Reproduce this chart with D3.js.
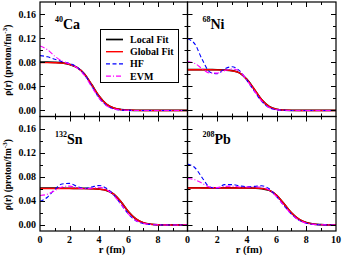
<!DOCTYPE html>
<html>
<title>densities</title>
<meta charset="UTF-8">
<script type="text/javascript" src="https://d3js.org/d3.v7.min.js"></script>
<style type="text/css">
	body { margin:0; background:white; }
	text { font-family: "Liberation Serif", "DejaVu Serif", serif; font-weight: bold; fill: black; }
</style>
<body>
<svg id="viz" width="343" height="255"></svg>
</body>
<script type="text/javascript">

// radius grid (fm)
var rGrid = [0,0.5,1,1.5,2,2.5,3,3.5,4,4.5,5,5.5,6,6.5,7,7.5,8,8.5,9,9.5,10];

var seriesNames = ["Local Fit", "Global Fit", "HF", "EVM"];
var yTicks = [0, 0.04, 0.08, 0.12, 0.16];
var xTicks = [0, 2, 4, 6, 8, 10];

// 40Ca
var localCa  = [0.0801,0.0801,0.0798,0.0789,0.0766,0.0715,0.0610,0.0430,0.0240,0.0105,0.0040,0.0015,0.0005,0.0002,0,0,0,0,0,0,0];
var globalCa = [0.0794,0.0794,0.0792,0.0786,0.0765,0.0716,0.0612,0.0432,0.0241,0.0106,0.0041,0.0015,0.0005,0.0002,0,0,0,0,0,0,0];
var hfCa     = [0.0910,0.0890,0.0850,0.0810,0.0780,0.0722,0.0602,0.0408,0.0213,0.0085,0.0025,0.0007,0.0002,0,0,0,0,0,0,0,0];
var evmCa    = [0.1070,0.1010,0.0900,0.0820,0.0770,0.0708,0.0585,0.0395,0.0205,0.0080,0.0025,0.0007,0.0002,0,0,0,0,0,0,0,0];

// 68Ni
var localNi  = [0.0678,0.0678,0.0678,0.0677,0.0676,0.0672,0.0660,0.0624,0.0515,0.0350,0.0175,0.0065,0.0020,0.0006,0.0002,0,0,0,0,0,0];
var globalNi = [0.0675,0.0675,0.0675,0.0675,0.0674,0.0670,0.0658,0.0622,0.0515,0.0352,0.0177,0.0066,0.0021,0.0006,0.0002,0,0,0,0,0,0];
var hfNi     = [0.1190,0.1100,0.0840,0.0640,0.0610,0.0690,0.0725,0.0660,0.0500,0.0320,0.0150,0.0045,0.0012,0.0003,0,0,0,0,0,0,0];
var evmNi    = [0.0810,0.0780,0.0690,0.0620,0.0620,0.0660,0.0690,0.0650,0.0500,0.0325,0.0155,0.0050,0.0013,0.0003,0,0,0,0,0,0,0];

// 132Sn
var localSn  = [0.0612,0.0612,0.0611,0.0610,0.0609,0.0608,0.0606,0.0602,0.0595,0.0575,0.0510,0.0380,0.0220,0.0100,0.0037,0.0012,0.0003,0.0001,0,0,0];
var globalSn = [0.0606,0.0606,0.0606,0.0606,0.0606,0.0605,0.0604,0.0601,0.0595,0.0576,0.0512,0.0383,0.0222,0.0101,0.0038,0.0012,0.0003,0.0001,0,0,0];
var hfSn     = [0.0390,0.0460,0.0590,0.0680,0.0690,0.0640,0.0605,0.0630,0.0655,0.0610,0.0500,0.0340,0.0180,0.0070,0.0025,0.0008,0.0002,0,0,0,0];
var evmSn    = [0.0490,0.0510,0.0570,0.0630,0.0645,0.0620,0.0600,0.0610,0.0625,0.0590,0.0490,0.0340,0.0180,0.0075,0.0027,0.0008,0.0002,0,0,0,0];

// 208Pb
var localPb  = [0.0618,0.0618,0.0617,0.0617,0.0616,0.0616,0.0615,0.0615,0.0615,0.0612,0.0603,0.0575,0.0490,0.0350,0.0200,0.0095,0.0040,0.0014,0.0005,0.0001,0];
var globalPb = [0.0614,0.0614,0.0614,0.0614,0.0614,0.0614,0.0614,0.0614,0.0614,0.0612,0.0604,0.0577,0.0492,0.0352,0.0202,0.0096,0.0040,0.0014,0.0005,0.0001,0];
var hfPb     = [0.1010,0.0950,0.0780,0.0630,0.0610,0.0670,0.0670,0.0650,0.0635,0.0640,0.0650,0.0600,0.0470,0.0320,0.0180,0.0080,0.0030,0.0010,0.0003,0.0001,0];
var evmPb    = [0.0770,0.0750,0.0690,0.0630,0.0620,0.0640,0.0645,0.0630,0.0630,0.0630,0.0630,0.0580,0.0470,0.0320,0.0180,0.0080,0.0030,0.0010,0.0003,0.0001,0];

var panels = [
	{mass:"40",  sym:"Ca", curves:[localCa, globalCa, hfCa, evmCa], col:0, row:0},
	{mass:"68",  sym:"Ni", curves:[localNi, globalNi, hfNi, evmNi], col:1, row:0},
	{mass:"132", sym:"Sn", curves:[localSn, globalSn, hfSn, evmSn], col:0, row:1},
	{mass:"208", sym:"Pb", curves:[localPb, globalPb, hfPb, evmPb], col:1, row:1}
];

var styles = [
	{color:"#000000", width:1.7, dash:null},
	{color:"#ff0000", width:1.4, dash:null},
	{color:"#0000ff", width:1.1, dash:"4,2.5"},
	{color:"#ff00ff", width:1.1, dash:"5,2,1,2"}
];

var colX = [[40, 187.5], [187.5, 336]];
var rowY = [[2, 116.5], [116.5, 231]];

var svg = d3.select("#viz");

panels.forEach(function(p){
	var x0 = colX[p.col][0], x1 = colX[p.col][1];
	var y0 = rowY[p.row][0], y1 = rowY[p.row][1];

	var xScale = d3.scaleLinear().domain([0,10]).range([x0,x1]);
	var yScale = d3.scaleLinear().domain([-0.01,0.18]).range([y1,y0]);

	var g = svg.append("g");

	var clipId = "clip" + p.sym;
	svg.append("clipPath").attr("id", clipId)
		.append("rect").attr("x", x0).attr("y", y0).attr("width", x1-x0).attr("height", y1-y0);

	var line = d3.line()
		.x(function(d, i){ return xScale(rGrid[i]); })
		.y(function(d){ return yScale(d); })
		.curve(d3.curveMonotoneX);

	var cg = g.append("g").attr("clip-path", "url(#" + clipId + ")");
	p.curves.forEach(function(c, k){
		cg.append("path")
			.attr("d", line(c))
			.attr("fill", "none")
			.attr("stroke", styles[k].color)
			.attr("stroke-width", styles[k].width)
			.attr("stroke-dasharray", styles[k].dash);
	});

	// ticks inside, all four sides
	var majorX = [2,4,6,8], minorX = [1,3,5,7,9];
	var minorY = [0.02, 0.06, 0.10, 0.14];
	var tk = g.append("g").attr("stroke", "#000").attr("stroke-width", 1);
	majorX.concat(minorX).forEach(function(v){
		var len = majorX.indexOf(v) >= 0 ? 5 : 3;
		var xx = Math.round(xScale(v)) + 0.5;
		tk.append("line").attr("x1", xx).attr("x2", xx).attr("y1", y1).attr("y2", y1 - len);
		tk.append("line").attr("x1", xx).attr("x2", xx).attr("y1", y0).attr("y2", y0 + len);
	});
	minorY.concat(yTicks).forEach(function(v){
		var len = yTicks.indexOf(v) >= 0 ? 5 : 3;
		var yy = Math.round(yScale(v)) + 0.5;
		tk.append("line").attr("x1", x0).attr("x2", x0 + len).attr("y1", yy).attr("y2", yy);
		tk.append("line").attr("x1", x1).attr("x2", x1 - len).attr("y1", yy).attr("y2", yy);
	});

	g.append("rect")
		.attr("x", x0).attr("y", y0).attr("width", x1-x0).attr("height", y1-y0)
		.attr("fill", "none").attr("stroke", "#000").attr("stroke-width", 1.2);

	// tick labels
	if (p.col === 0) {
		yTicks.forEach(function(v){
			g.append("text").attr("x", 36).attr("y", yScale(v) + 3.5)
				.attr("text-anchor", "end").style("font-size", "10px")
				.text(d3.format(".2f")(v));
		});
		var yl = g.append("text")
			.attr("transform", "translate(11," + ((y0+y1)/2 + 1) + ") rotate(-90)")
			.attr("text-anchor", "middle").style("font-size", "9.5px");
		yl.append("tspan").text("\u03c1(r) (proton/fm");
		yl.append("tspan").attr("dy", -4).style("font-size", "7px").text("-3");
		yl.append("tspan").attr("dy", 4).text(")");
	}
	if (p.row === 1) {
		xTicks.forEach(function(v){
			if (p.col === 0 && v === 10) return;
			g.append("text").attr("x", xScale(v)).attr("y", 243)
				.attr("text-anchor", "middle").style("font-size", "10px")
				.text(v);
		});
		g.append("text").attr("x", p.col === 0 ? 112 : 249).attr("y", 253)
			.attr("text-anchor", "middle").style("font-size", "10.5px").text("r (fm)");
	}

	// nucleus label
	var lab = g.append("text").attr("x", x0 + 15).attr("y", y0 + 27).style("font-size", "14px");
	lab.append("tspan").attr("dy", -7).style("font-size", "8px").text(p.mass);
	lab.append("tspan").attr("dy", 7).text(p.sym);
});

// legend
var leg = svg.append("g");
leg.append("rect").attr("x", 100.5).attr("y", 29.5).attr("width", 78).attr("height", 53)
	.attr("fill", "white").attr("stroke", "#000").attr("stroke-width", 1);
seriesNames.forEach(function(name, i){
	var yy = 39.5 + i * 12.2;
	leg.append("line").attr("x1", 106).attr("x2", 123).attr("y1", yy).attr("y2", yy)
		.attr("stroke", styles[i].color).attr("stroke-width", styles[i].width)
		.attr("stroke-dasharray", styles[i].dash);
	leg.append("text").attr("x", 130).attr("y", yy + 3.5).style("font-size", "10px").text(name);
});

</script>
</html>
